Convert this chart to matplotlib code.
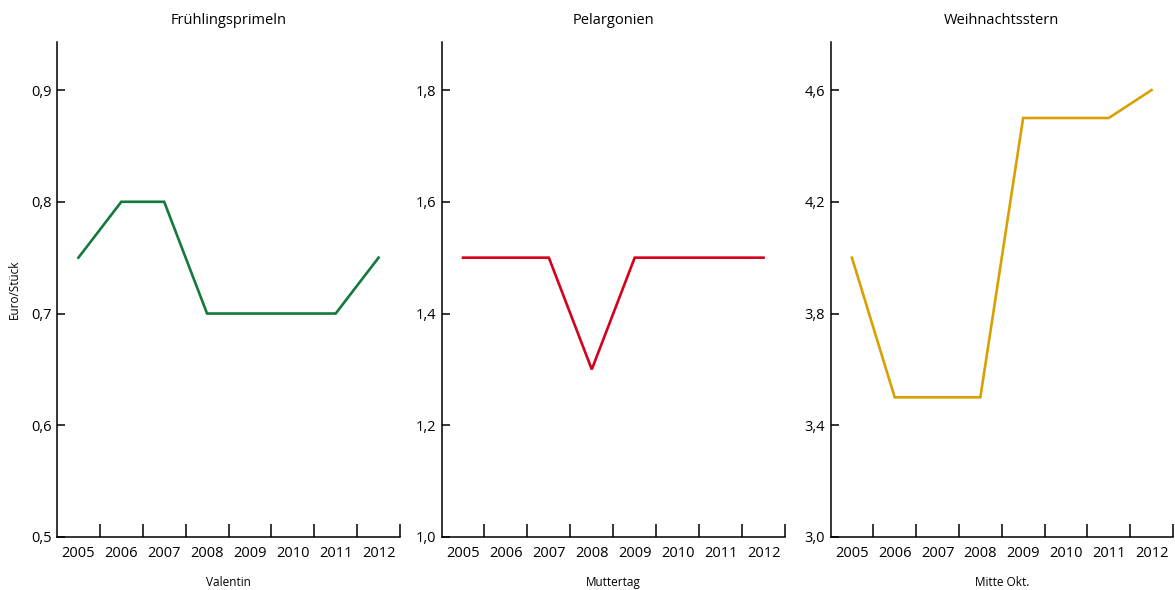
import matplotlib
matplotlib.use("Agg")
import matplotlib.pyplot as plt
from matplotlib.ticker import FixedLocator, FuncFormatter
import numpy as np

plt.rcParams['font.family'] = ['Open Sans', 'DejaVu Sans']

years = [2005, 2006, 2007, 2008, 2009, 2010, 2011, 2012]
primeln = [0.75, 0.8, 0.8, 0.7, 0.7, 0.7, 0.7, 0.75]
pelargonien = [1.5, 1.5, 1.5, 1.3, 1.5, 1.5, 1.5, 1.5]
weihnachtsstern = [4.0, 3.5, 3.5, 3.5, 4.5, 4.5, 4.5, 4.6]

titles = ["Frühlingsprimeln", "Pelargonien", "Weihnachtsstern"]
xlabels = ["Valentin", "Muttertag", "Mitte Okt."]
colors = ["#127a3c", "#d5001c", "#d9a000"]
yticks = [[0.5, 0.6, 0.7, 0.8, 0.9], [1.0, 1.2, 1.4, 1.6, 1.8], [3.0, 3.4, 3.8, 4.2, 4.6]]
ylims = [(0.5, 0.943), (1.0, 1.886), (3.0, 4.772)]
series = [primeln, pelargonien, weihnachtsstern]

W, H = 1175, 590
fig = plt.figure(figsize=(W / 100, H / 100), dpi=100)
lefts = [57, 441.5, 830.5]
rights = [400, 785, 1173]
top, bottom = 42, 537

comma = FuncFormatter(lambda v, p: f"{v:.1f}".replace('.', ','))

for i in range(3):
    ax = fig.add_axes([lefts[i] / W, (H - bottom) / H,
                       (rights[i] - lefts[i]) / W, (bottom - top) / H])
    ax.plot(years, series[i], color=colors[i], lw=1.9, solid_joinstyle='miter')
    ax.set_xlim(2004.5, 2012.5)
    ax.set_ylim(*ylims[i])
    ax.spines['top'].set_visible(False)
    ax.spines['right'].set_visible(False)
    for s in ['left', 'bottom']:
        ax.spines[s].set_linewidth(1.1)

    # boundary ticks between years, labels at year centres
    ax.xaxis.set_major_locator(FixedLocator(np.arange(2005.5, 2013, 1.0)))
    ax.xaxis.set_minor_locator(FixedLocator(years))
    ax.xaxis.set_major_formatter(FuncFormatter(lambda v, p: ""))
    ax.xaxis.set_minor_formatter(FuncFormatter(lambda v, p: f"{int(round(v))}"))
    ax.tick_params(axis='x', which='major', direction='in', length=9.5, width=1.1)
    ax.tick_params(axis='x', which='minor', length=0, pad=6.5, labelsize=10.5)

    ax.set_yticks(yticks[i])
    ax.yaxis.set_major_formatter(comma)
    ax.tick_params(axis='y', direction='in', length=6, width=1.1, pad=4, labelsize=10.5)

    ax.set_title(titles[i], fontsize=10.5, pad=13)
    ax.set_xlabel(xlabels[i], fontsize=8.5, labelpad=11)
    if i == 0:
        ax.set_ylabel("Euro/Stück", fontsize=8.5, labelpad=7)

fig.savefig("out.png", dpi=100)
